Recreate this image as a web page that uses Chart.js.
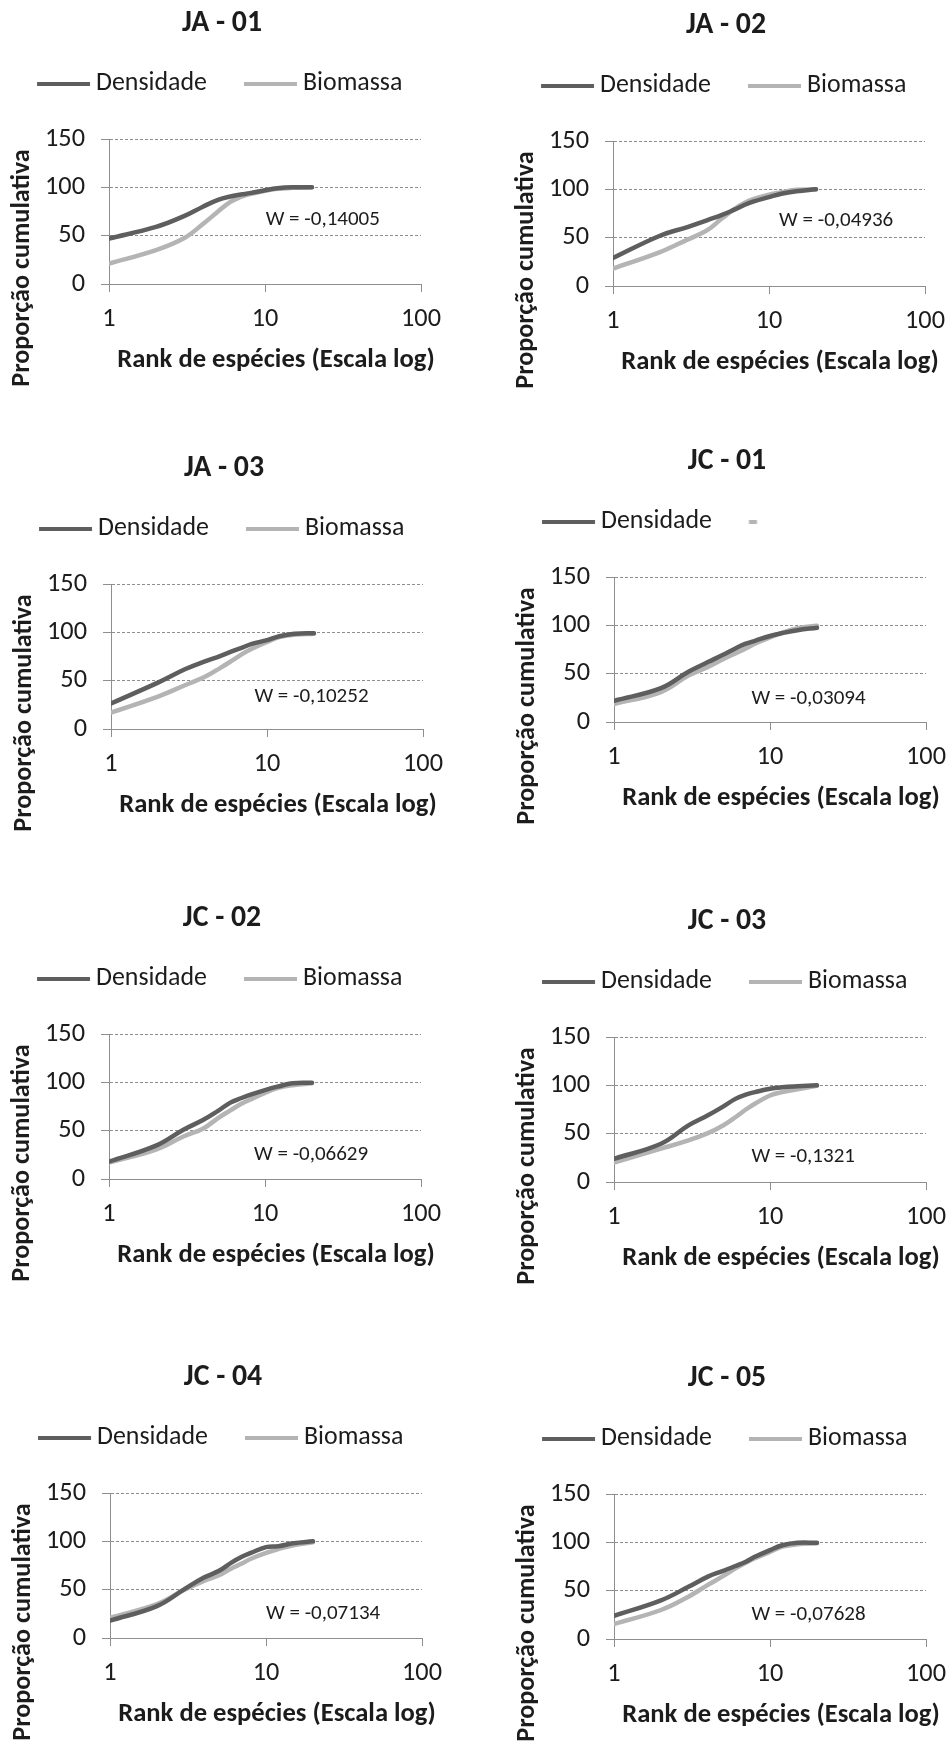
<!DOCTYPE html>
<html>
<head>
<meta charset="utf-8">
<script src="https://cdn.jsdelivr.net/npm/chart.js@4.4.1/dist/chart.umd.min.js"></script>
<style>
html,body{margin:0;padding:0;background:#fff;overflow:hidden;}
#wrap{position:relative;width:950px;height:1744px;overflow:hidden;background:#fff;}
#wrap canvas{position:absolute;}
</style>
</head>
<body>
<div id="wrap"></div>
<script>
// ---------------- DATA ----------------
const ranks = [1, 2, 3, 4, 5, 6, 7, 8, 10, 12, 15, 20];
const seriesNames = ['Densidade', 'Biomassa'];
const panelTitles = ['JA - 01', 'JA - 02', 'JA - 03', 'JC - 01', 'JC - 02', 'JC - 03', 'JC - 04', 'JC - 05'];
const wLabels = ['W = -0,14005', 'W = -0,04936', 'W = -0,10252', 'W = -0,03094', 'W = -0,06629', 'W = -0,1321', 'W = -0,07134', 'W = -0,07628'];
const yTickValues = [0, 50, 100, 150];
const xTickValues = [1, 10, 100];
const yAxisTitle = 'Proporção cumulativa';
const xAxisTitle = 'Rank de espécies (Escala log)';

const ja01Densidade = [47, 59, 70, 80, 87, 90.5, 92.5, 94, 97, 99, 100, 100];
const ja01Biomassa  = [21, 35, 47, 62, 75, 85, 90, 93, 96.5, 98.5, 99.5, 100];
const ja02Densidade = [29, 52, 61, 68, 73.5, 79, 84, 87.5, 92, 95.5, 98, 100];
const ja02Biomassa  = [18, 35, 48, 57.5, 70, 79.5, 86, 90, 94.5, 97, 99.5, 100];
const ja03Densidade = [26.5, 48, 62, 70, 75.5, 80.5, 84.5, 88, 92, 96, 98.5, 99];
const ja03Biomassa  = [17, 33.5, 45.5, 54, 63, 71, 78, 83, 90, 95, 97.5, 98.5];
const jc01Densidade = [22, 35, 52, 62, 69.5, 76, 81, 84, 89, 92, 95, 97.5];
const jc01Biomassa  = [18.5, 31, 48, 57, 65, 71, 76, 81, 87.5, 92.5, 97, 99.5];
const jc02Densidade = [18, 34.5, 51, 61, 70.5, 79, 83.5, 87, 92, 95.5, 99, 99.5];
const jc02Biomassa  = [17, 30.5, 44, 52, 63, 71, 77.5, 82, 89, 94, 97, 99];
const jc03Densidade = [24, 39.5, 58.5, 69, 78, 86, 90.5, 93, 96.5, 98, 99, 100];
const jc03Biomassa  = [20, 34.5, 43, 50.5, 58.5, 67, 75, 81, 89.5, 93, 96, 99.5];
const jc04Densidade = [18, 33, 50.5, 62.5, 69.5, 78, 84, 88, 94, 95, 98, 100];
const jc04Biomassa  = [21, 35, 50, 59, 65, 72, 77, 82, 88, 92, 96, 99];
const jc05Densidade = [24, 40, 54, 64.5, 70.5, 75.5, 80, 85, 92, 97, 99.5, 99.5];
const jc05Biomassa  = [15.5, 30, 43.8, 56, 65, 73, 79, 83.5, 90, 95.5, 98, 99];

const densSeries = [ja01Densidade, ja02Densidade, ja03Densidade, jc01Densidade, jc02Densidade, jc03Densidade, jc04Densidade, jc05Densidade];
const bioSeries  = [ja01Biomassa, ja02Biomassa, ja03Biomassa, jc01Biomassa, jc02Biomassa, jc03Biomassa, jc04Biomassa, jc05Biomassa];

// ---------------- LAYOUT / STYLE ----------------
const FAMILY = 'Carlito, Lato, "Liberation Sans", sans-serif';
const TEXT = '#1c1c1c';
const DARK = '#5e5e5e';
const LIGHT = '#b4b4b4';
const GRID = '#8e8e8e';

// canvas placement (left, top) and annotation anchor (data coords) per panel
const placement = [
  {left: 0,   top: -1,   wx: 10.1, wy: 66,  legendDashOnly: false},
  {left: 504, top: 1,    wx: 11.6, wy: 68,  legendDashOnly: false},
  {left: 2,   top: 444,  wx: 8.3,  wy: 33,  legendDashOnly: false},
  {left: 505, top: 437,  wx: 7.6,  wy: 24.5, legendDashOnly: true},
  {left: 0,   top: 894,  wx: 8.5,  wy: 25,  legendDashOnly: false},
  {left: 505, top: 897,  wx: 7.6,  wy: 26,  legendDashOnly: false},
  {left: 1,   top: 1353, wx: 10,   wy: 25,  legendDashOnly: false},
  {left: 505, top: 1354, wx: 7.6,  wy: 25,  legendDashOnly: false}
];

const CW = 444, CH = 395;
const PLOT_LEFT = 109, PLOT_TOP = 140, XAXIS_H = 110;
const TITLE_CY = 25, LEGEND_CY = 85, LEG_PAD = 10;
const LINE_LEN = 53, LINE_GAP = 6, LEG_LEAD = 27, LINE_THICK = 4;

const mctx = document.createElement('canvas').getContext('2d');
function fitSize(text, width, weight) {
  mctx.font = weight + ' 100px ' + FAMILY;
  return Math.round(1000 * width / mctx.measureText(text).width) / 10;
}
const fsTitle  = fitSize('JA - 01', 80, 'bold');
const fsLegend = fitSize('Densidade', 111, 'normal');
const fsTick   = fitSize('150', 40, 'normal');
const fsXTitle = fitSize(xAxisTitle, 317, 'bold');
const fsYTitle = fitSize(yAxisTitle, 238, 'bold');
const fsW      = fitSize('W = -0,14005', 114, 'normal');

const lhTitle = 1.2 * fsTitle;
const titlePadTop = TITLE_CY - lhTitle / 2;
const legendTop = LEGEND_CY - LEG_PAD - fsLegend / 2;
const titlePadBottom = legendTop - titlePadTop - lhTitle;
const legendExtra = PLOT_TOP - (legendTop + fsLegend + LEG_PAD + 10);
const legendBoxW = LEG_LEAD + LINE_LEN + LINE_GAP - fsLegend / 2;

function lineImage(color, fromX, len, boxW) {
  const c = boxW / 2;
  const half = Math.max(c - fromX, fromX + len - c) + 1;
  const w = Math.ceil(half * 2);
  const h = 8;
  const cv = document.createElement('canvas');
  cv.width = w; cv.height = h;
  const g = cv.getContext('2d');
  g.fillStyle = color;
  g.fillRect(w / 2 - c + fromX, (h - LINE_THICK) / 2, len, LINE_THICK);
  return cv;
}

const legendSpacer = {
  id: 'legendSpacer',
  beforeInit(chart, args, opts) {
    const orig = chart.legend.fit;
    chart.legend.fit = function () {
      orig.call(chart.legend);
      this.height += opts.extra;
    };
  }
};

// annotation text (W) and the two axis titles, placed relative to the chart area
const decor = {
  id: 'decor',
  afterDraw(chart, args, opts) {
    const {ctx, chartArea, scales} = chart;
    ctx.save();
    ctx.fillStyle = TEXT;
    ctx.font = fsW + 'px ' + FAMILY;
    ctx.textAlign = 'left';
    ctx.textBaseline = 'middle';
    ctx.fillText(opts.text, scales.x.getPixelForValue(opts.wx), scales.y.getPixelForValue(opts.wy));
    ctx.font = 'bold ' + fsXTitle + 'px ' + FAMILY;
    ctx.textAlign = 'center';
    ctx.fillText(xAxisTitle, (chartArea.left + chartArea.right) / 2 + 11, chartArea.bottom + 76);
    ctx.translate(chartArea.left - 87, chartArea.top + 129);
    ctx.rotate(-Math.PI / 2);
    ctx.font = 'bold ' + fsYTitle + 'px ' + FAMILY;
    ctx.fillText(yAxisTitle, 0, 0);
    ctx.restore();
  }
};

function points(vals) {
  return ranks.map((r, i) => ({x: r, y: vals[i]}));
}

function makeConfig(i) {
  const p = placement[i];
  const legendItems = [
    {text: seriesNames[0], pointStyle: lineImage(DARK, LEG_LEAD, LINE_LEN, legendBoxW), fontColor: TEXT,
     fillStyle: DARK, strokeStyle: DARK, lineWidth: 0, hidden: false, datasetIndex: 0},
    p.legendDashOnly
      ? {text: '', pointStyle: lineImage(LIGHT, LEG_LEAD, 8, legendBoxW), fontColor: TEXT,
         fillStyle: LIGHT, strokeStyle: LIGHT, lineWidth: 0, hidden: false, datasetIndex: 1}
      : {text: seriesNames[1], pointStyle: lineImage(LIGHT, LEG_LEAD, LINE_LEN, legendBoxW), fontColor: TEXT,
         fillStyle: LIGHT, strokeStyle: LIGHT, lineWidth: 0, hidden: false, datasetIndex: 1}
  ];
  const ds = (label, vals, color) => ({
    label, data: points(vals), borderColor: color, backgroundColor: color,
    borderWidth: 4.5, pointRadius: 0, pointHoverRadius: 0, fill: false,
    tension: 0.4, borderCapStyle: 'round', borderJoinStyle: 'round'
  });
  return {
    type: 'line',
    data: {datasets: [ds(seriesNames[0], densSeries[i], DARK), ds(seriesNames[1], bioSeries[i], LIGHT)]},
    options: {
      responsive: false, animation: false, devicePixelRatio: 1,
      events: [],
      layout: {padding: 0},
      plugins: {
        title: {
          display: true, text: panelTitles[i], color: TEXT,
          font: {family: FAMILY, size: fsTitle, weight: 'bold', lineHeight: 1.2},
          padding: {top: titlePadTop, bottom: titlePadBottom}
        },
        legend: {
          display: true, position: 'top', align: 'start',
          labels: {
            usePointStyle: true, pointStyleWidth: legendBoxW, padding: LEG_PAD, color: TEXT,
            font: {family: FAMILY, size: fsLegend},
            generateLabels: () => legendItems
          }
        },
        tooltip: {enabled: false},
        legendSpacer: {extra: legendExtra},
        decor: {text: wLabels[i], wx: p.wx, wy: p.wy}
      },
      scales: {
        x: {
          type: 'logarithmic', min: 1, max: 100,
          afterBuildTicks: ax => { ax.ticks = xTickValues.map(v => ({value: v})); },
          afterFit: s => { s.height = XAXIS_H; },
          ticks: {
            color: TEXT, padding: 3, autoSkip: false, maxRotation: 0,
            font: {family: FAMILY, size: fsTick, lineHeight: 2 * (35 - 8 - 3) / fsTick},
            callback: v => String(v)
          },
          grid: {drawOnChartArea: false, drawTicks: true, tickLength: 8, color: GRID, tickColor: GRID},
          border: {display: true, color: GRID, width: 1},
          title: {display: false}
        },
        y: {
          type: 'linear', min: 0, max: 150,
          afterBuildTicks: ax => { ax.ticks = yTickValues.map(v => ({value: v})); },
          afterFit: s => { s.width = PLOT_LEFT; },
          ticks: {color: TEXT, padding: 16, font: {family: FAMILY, size: fsTick}},
          grid: {
            drawTicks: true, tickLength: 8, lineWidth: 1,
            color: c => (c.tick && c.tick.value === 0) ? 'rgba(0,0,0,0)' : GRID,
            tickColor: GRID
          },
          border: {display: true, color: GRID, width: 1, dash: [3, 2]},
          title: {display: false}
        }
      }
    },
    plugins: [legendSpacer, decor]
  };
}

const wrap = document.getElementById('wrap');
placement.forEach((p, i) => {
  const cv = document.createElement('canvas');
  cv.width = CW; cv.height = CH;
  cv.style.width = CW + 'px'; cv.style.height = CH + 'px';
  cv.style.left = p.left + 'px'; cv.style.top = p.top + 'px';
  wrap.appendChild(cv);
  new Chart(cv, makeConfig(i));
});
</script>
</body>
</html>
